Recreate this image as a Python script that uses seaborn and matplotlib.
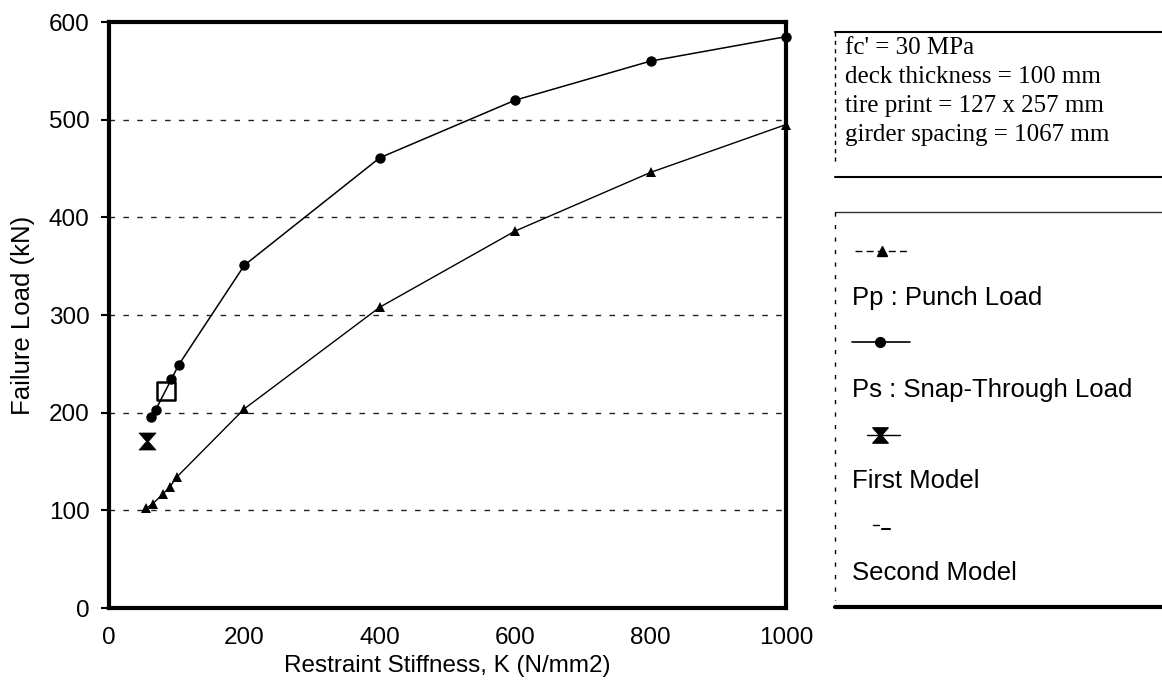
import numpy as np
import pandas as pd
import matplotlib
matplotlib.use("Agg")
import matplotlib.pyplot as plt
from matplotlib.path import Path
import seaborn as sns

# values
punch_k = [55, 65, 80, 90, 100, 200, 400, 600, 800, 1000]
punch_load = [102, 107, 117, 124, 134, 204, 308, 386, 446, 495]
snap_k = [62, 69, 92, 103, 200, 400, 600, 800, 1000]
snap_load = [196, 203, 234, 249, 351, 461, 520, 560, 585]
first_k = [56]
first_load = [171]
second_k = [84]
second_load = [222]

x_ticks = [0, 200, 400, 600, 800, 1000]
y_ticks = [0, 100, 200, 300, 400, 500, 600]

note_lines = ["fc' = 30 MPa", "deck thickness = 100 mm",
              "tire print = 127 x 257 mm", "girder spacing = 1067 mm"]
legend_labels = ["Pp : Punch Load", "Ps : Snap-Through Load",
                 "First Model", "Second Model"]

sns.set_style("white")
plt.rcParams['font.family'] = ['Liberation Sans', 'DejaVu Sans']
plt.rcParams['text.color'] = 'black'
plt.rcParams['axes.labelcolor'] = 'black'
plt.rcParams['xtick.color'] = 'black'
plt.rcParams['ytick.color'] = 'black'

# hourglass marker used for the first model
hourglass = Path([(-1, 1), (1, 1), (0.12, 0), (1, -1), (-1, -1), (-0.12, 0), (-1, 1)],
                 [Path.MOVETO] + [Path.LINETO] * 5 + [Path.CLOSEPOLY])

punch_df = pd.DataFrame({"K": punch_k, "P": punch_load})
snap_df = pd.DataFrame({"K": snap_k, "P": snap_load})

fig = plt.figure(figsize=(11.62, 6.86), dpi=100)
ax = fig.add_axes([0.0938, 0.1137, 0.5826, 0.8542])

sns.lineplot(data=punch_df, x="K", y="P", ax=ax, color="black", lw=1.0,
             marker="^", markersize=7, markeredgewidth=0, sort=False, clip_on=False)
sns.lineplot(data=snap_df, x="K", y="P", ax=ax, color="black", lw=1.1,
             marker="o", markersize=7.5, markeredgewidth=0, sort=False, clip_on=False)
sns.scatterplot(x=first_k, y=first_load, ax=ax, marker=hourglass, s=150,
                color="black", edgecolor="black", linewidth=0.5, zorder=5)
sns.scatterplot(x=second_k, y=second_load, ax=ax, marker="s", s=170,
                facecolor="none", edgecolor="black", linewidth=1.8, zorder=5)

ax.set_xlim(0, 1000)
ax.set_ylim(0, 600)
ax.set_xticks(x_ticks)
ax.set_yticks(y_ticks)
ax.yaxis.grid(True, linestyle=(0, (4, 6)), color="#222222", lw=1.0)
ax.xaxis.grid(False)
for s in ax.spines.values():
    s.set_visible(True)
    s.set_linewidth(3)
    s.set_color("black")
ax.tick_params(axis="y", left=True, length=6, width=1.5, pad=8, labelsize=17.5)
ax.tick_params(axis="x", bottom=False, length=0, pad=14, labelsize=17.5)
ax.set_xlabel("Restraint Stiffness, K (N/mm2)", fontsize=17.5, labelpad=4)
ax.set_ylabel("Failure Load (kN)", fontsize=18.5, labelpad=10)

# right-hand panel drawn in pixel coordinates
pan = fig.add_axes([0, 0, 1, 1])
pan.set_xlim(0, 1162)
pan.set_ylim(686, 0)
pan.axis("off")
pan.patch.set_alpha(0)

# note box
pan.plot([835, 1162], [32, 32], color="black", lw=1.5)
pan.plot([835, 1162], [177, 177], color="black", lw=1.5)
pan.plot([835, 835], [32, 165], color="black", lw=1.0, ls=(0, (3, 3)))
for i, line in enumerate(note_lines):
    pan.text(845, 48 + i * 29, line, fontsize=18, va="center", ha="left",
             family=['Liberation Serif', 'DejaVu Serif'])

# legend box
pan.plot([835, 1162], [212, 212], color="#333333", lw=1.0)
pan.plot([835, 1162], [607, 607], color="black", lw=3)
pan.plot([835, 835], [212, 600], color="black", lw=1.0, ls=(0, (3, 6)))

pan.plot([855, 910], [251, 251], color="black", lw=1.0, ls=(0, (5, 3)))
pan.plot([882], [251], marker="^", color="black", markersize=7)
pan.plot([852, 910], [342, 342], color="black", lw=1.2)
pan.plot([880], [342], marker="o", color="black", markersize=7)
pan.plot([867, 900], [435, 435], color="black", lw=1.0)
pan.plot([880], [435], marker=hourglass, color="black", markersize=11)
pan.plot([873, 879], [525, 525], color="black", lw=1.0)
pan.plot([882, 890], [529, 529], color="black", lw=1.5)

for i, lab in enumerate(legend_labels):
    pan.text(852, 298 + i * 91.5, lab, fontsize=18.5, va="center", ha="left")

fig.savefig("out.png", dpi=100)
